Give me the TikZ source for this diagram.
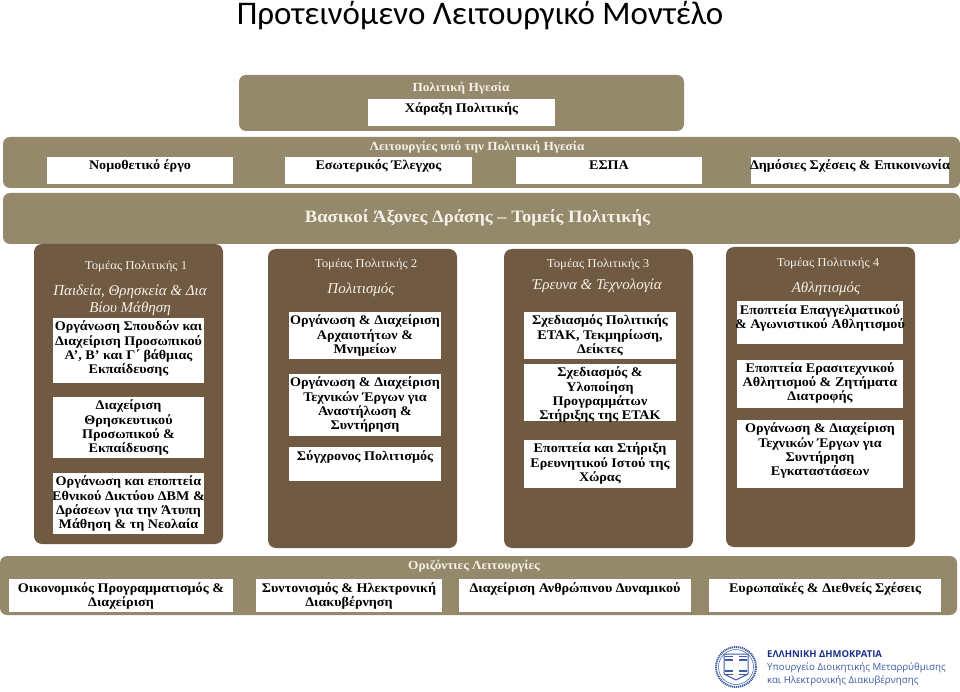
\documentclass[tikz,border=0pt]{standalone}
\usepackage{fontspec}
\setmainfont{Liberation Serif}
\newfontfamily\cellfont[FakeStretch=1.07]{Liberation Serif}
\newfontfamily\titlefont{Carlito}
\newfontfamily\logofont{Open Sans}
\definecolor{tanpanel}{RGB}{148,137,107}
\definecolor{brownpanel}{RGB}{112,90,66}
\definecolor{paletext}{RGB}{245,241,232}
\definecolor{logoblue}{RGB}{60,90,165}
\definecolor{logonavy}{RGB}{28,48,140}
\tikzset{
  panel/.style={fill=tanpanel, rounded corners=7},
  sector/.style={fill=brownpanel, rounded corners=8},
  cell/.style={fill=white},
  celltext/.style={anchor=north, align=center, inner sep=0pt, execute at begin node=\strut, font=\cellfont\bfseries\fontsize{13.2}{14.3}\selectfont},
  paneltext/.style={inner sep=0pt, text=paletext, font=\cellfont\bfseries\fontsize{12.4}{14}\selectfont},
  sectortext/.style={inner sep=0pt, text=paletext, font=\cellfont\fontsize{12}{14}\selectfont},
  themetext/.style={inner sep=0pt, align=center, text=paletext, font=\itshape\fontsize{15}{17}\selectfont},
  logotext/.style={anchor=west, inner sep=0pt, text=logoblue, font=\logofont\fontsize{9.7}{12}\selectfont},
}
\begin{document}
\begin{tikzpicture}[x=1pt, y=-1pt, line join=round]
  \useasboundingbox (0,0) rectangle (960,692);

  % Title
  \node[inner sep=0pt, font=\titlefont\fontsize{33}{36}\selectfont] (title) at (480,16) {Προτεινόμενο Λειτουργικό Μοντέλο};

  % Political leadership
  \fill[panel] (239,75) rectangle (684,131);
  \node[paneltext] (lead) at (461,88) {Πολιτική Ηγεσία};
  \fill[cell] (368,99) rectangle (555,126);
  \node[celltext] (policy) at (461.5,102) {Χάραξη Πολιτικής};

  % Functions under the leadership
  \fill[panel] (3,137) rectangle (960,188);
  \node[paneltext] (func) at (477,147) {Λειτουργίες υπό την Πολιτική Ηγεσία};
  \fill[cell] (47,157) rectangle (233,184);
  \node[celltext] (law) at (140,159) {Νομοθετικό έργο};
  \fill[cell] (285,157) rectangle (472,184);
  \node[celltext] (audit) at (378.5,159) {Εσωτερικός Έλεγχος};
  \fill[cell] (516,157) rectangle (702,184);
  \node[celltext] (espa) at (609,159) {ΕΣΠΑ};
  \fill[cell] (751,157) rectangle (949,184);
  \node[celltext] (pr) at (850,159) {Δημόσιες Σχέσεις \& Επικοινωνία};

  % Main axes
  \fill[panel] (3,193) rectangle (960,244);
  \node[paneltext, font=\cellfont\bfseries\fontsize{17.4}{19}\selectfont] (axes) at (477.5,218) {Βασικοί Άξονες Δράσης – Τομείς Πολιτικής};

  % Sector 1
  \fill[sector] (34,244) rectangle (223,544);
  \node[sectortext] (s1) at (136,266.5) {Τομέας Πολιτικής 1};
  \node[themetext] (s1theme) at (130,300) {Παιδεία, Θρησκεία \& Δια\\Βίου Μάθηση};
  \fill[cell] (53,318) rectangle (204,383);
  \node[celltext] (s1a) at (128.5,320.8) {Οργάνωση Σπουδών και\\Διαχείριση Προσωπικού\\Α’, Β’ και Γ΄ βάθμιας\\Εκπαίδευσης};
  \fill[cell] (53,397) rectangle (204,458);
  \node[celltext] (s1b) at (128.5,399.8) {Διαχείριση\\Θρησκευτικού\\Προσωπικού \&\\Εκπαίδευσης};
  \fill[cell] (53,473) rectangle (204,534);
  \node[celltext] (s1c) at (128.5,475.8) {Οργάνωση και εποπτεία\\Εθνικού Δικτύου ΔΒΜ \&\\Δράσεων για την Άτυπη\\Μάθηση \& τη Νεολαία};

  % Sector 2
  \fill[sector] (268,249) rectangle (457,548);
  \node[sectortext] (s2) at (366,264.5) {Τομέας Πολιτικής 2};
  \node[themetext] (s2theme) at (361,290) {Πολιτισμός};
  \fill[cell] (289,312) rectangle (441,359);
  \node[celltext] (s2a) at (365,314.8) {Οργάνωση \& Διαχείριση\\Αρχαιοτήτων \&\\Μνημείων};
  \fill[cell] (289,374) rectangle (441,436);
  \node[celltext] (s2b) at (365,376.8) {Οργάνωση \& Διαχείριση\\Τεχνικών Έργων για\\Αναστήλωση \&\\Συντήρηση};
  \fill[cell] (289,447) rectangle (441,481);
  \node[celltext] (s2c) at (365,449.8) {Σύγχρονος Πολιτισμός};

  % Sector 3
  \fill[sector] (504,249) rectangle (693,548);
  \node[sectortext] (s3) at (598,264.5) {Τομέας Πολιτικής 3};
  \node[themetext] (s3theme) at (597,286) {Έρευνα \& Τεχνολογία};
  \fill[cell] (524,312) rectangle (676,359);
  \node[celltext] (s3a) at (600,314.8) {Σχεδιασμός Πολιτικής\\ΕΤΑΚ, Τεκμηρίωση,\\Δείκτες};
  \fill[cell] (524,364) rectangle (676,421);
  \begin{scope}
    \clip (524,364) rectangle (676,421);
    \node[celltext] (s3b) at (600,366.8) {Σχεδιασμός \&\\Υλοποίηση\\Προγραμμάτων\\Στήριξης της ΕΤΑΚ};
  \end{scope}
  \fill[cell] (524,440) rectangle (676,488);
  \node[celltext] (s3c) at (600,442.8) {Εποπτεία και Στήριξη\\Ερευνητικού Ιστού της\\Χώρας};

  % Sector 4
  \fill[sector] (726,247) rectangle (915,547);
  \node[sectortext] (s4) at (828,263.5) {Τομέας Πολιτικής 4};
  \node[themetext] (s4theme) at (826,289) {Αθλητισμός};
  \fill[cell] (737,301) rectangle (903,344);
  \node[celltext] (s4a) at (820,304) {Εποπτεία Επαγγελματικού\\\& Αγωνιστικού Αθλητισμού};
  \fill[cell] (737,360) rectangle (903,408);
  \node[celltext] (s4b) at (820,362) {Εποπτεία Ερασιτεχνικού\\Αθλητισμού \& Ζητήματα\\Διατροφής};
  \fill[cell] (737,420) rectangle (903,488);
  \node[celltext] (s4c) at (820,422.8) {Οργάνωση \& Διαχείριση\\Τεχνικών Έργων για\\Συντήρηση\\Εγκαταστάσεων};

  % Horizontal functions
  \fill[panel] (0,556) rectangle (957,615);
  \node[paneltext] (horiz) at (474,566) {Οριζόντιες Λειτουργίες};
  \fill[cell] (9,579) rectangle (233,612);
  \node[celltext] (h1) at (121,582) {Οικονομικός Προγραμματισμός \&\\Διαχείριση};
  \fill[cell] (256,579) rectangle (442,612);
  \node[celltext] (h2) at (349,582) {Συντονισμός \& Ηλεκτρονική\\Διακυβέρνηση};
  \fill[cell] (459,579) rectangle (691,612);
  \node[celltext] (h3) at (575,582) {Διαχείριση Ανθρώπινου Δυναμικού};
  \fill[cell] (709,579) rectangle (941,612);
  \node[celltext] (h4) at (825,582) {Ευρωπαϊκές \& Διεθνείς Σχέσεις};

  % Logo
  \draw[logoblue, line width=2pt, dash pattern=on 1.2pt off 0.8pt] (736,667) circle (20);
  \draw[logoblue, line width=0.5pt] (736,667) circle (17.5);
  \draw[logoblue, line width=1pt, fill=white] (724,654) -- (748,654) -- (748,674) -- (736,680) -- (724,674) -- cycle;
  \foreach \ypos in {656.5,660,671,674.5} {
    \draw[logoblue, line width=1.6pt] (725,\ypos) -- (733,\ypos);
    \draw[logoblue, line width=1.6pt] (739,\ypos) -- (747,\ypos);
  }
  \node[logotext, text=logonavy, font=\logofont\bfseries\fontsize{9.5}{12}\selectfont] (logo1) at (767,654.5) {ΕΛΛΗΝΙΚΗ ΔΗΜΟΚΡΑΤΙΑ};
  \node[logotext] (logo2) at (767,668) {Υπουργείο Διοικητικής Μεταρρύθμισης};
  \node[logotext] (logo3) at (767,681) {και Ηλεκτρονικής Διακυβέρνησης};
\end{tikzpicture}
\end{document}
